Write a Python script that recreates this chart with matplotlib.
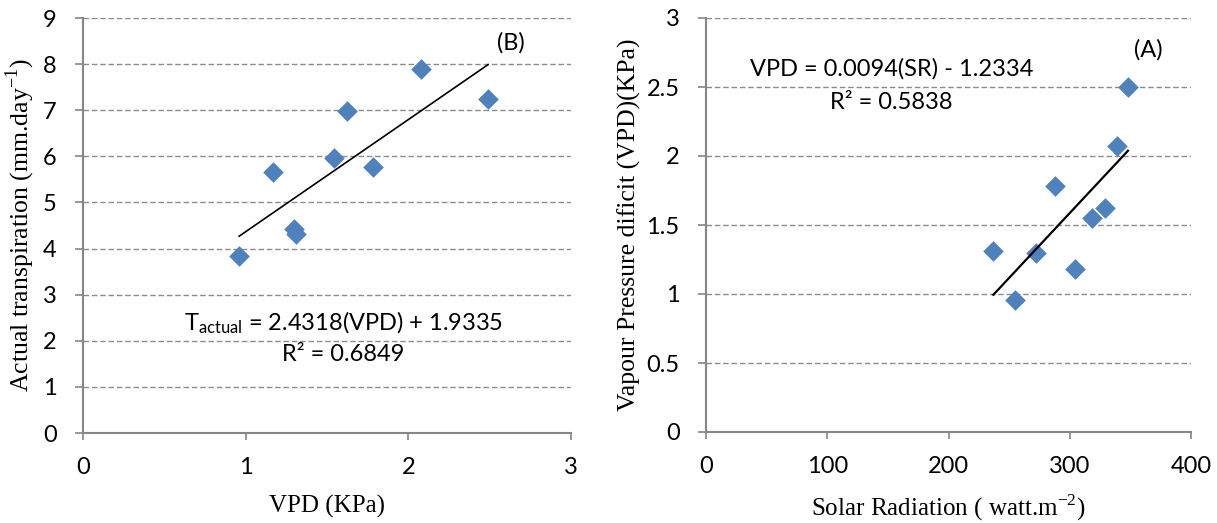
import matplotlib
matplotlib.use("Agg")
import matplotlib.pyplot as plt
import numpy as np

plt.rcParams['font.family'] = ['Lato', 'DejaVu Sans']
plt.rcParams['mathtext.fontset'] = 'custom'
plt.rcParams['mathtext.rm'] = 'Liberation Serif'
plt.rcParams['mathtext.sf'] = 'Lato'

# panel B: VPD vs actual transpiration
vpd_b = [0.96, 1.17, 1.30, 1.31, 1.54, 1.62, 1.78, 2.08, 2.49]
trans_b = [3.83, 5.66, 4.42, 4.32, 5.97, 6.98, 5.76, 7.89, 7.24]
slope_b, icpt_b = 2.4318, 1.9335

# panel A: solar radiation vs VPD
sr_a = [237, 255, 272, 288, 304, 318, 329, 339, 348]
vpd_a = [1.31, 0.96, 1.30, 1.78, 1.18, 1.55, 1.62, 2.07, 2.50]
slope_a, icpt_a = 0.0094, -1.2334

blue = '#4F81BD'
grey = '#868686'
serif = 'Liberation Serif'

fig = plt.figure(figsize=(12.17, 5.23), dpi=100)
axB = fig.add_axes([83 / 1217, 90 / 523, 488 / 1217, 415 / 523])
axA = fig.add_axes([706 / 1217, 91 / 523, 485 / 1217, 414 / 523])


def style(ax):
    for s in ['top', 'right']:
        ax.spines[s].set_visible(False)
    for s in ['left', 'bottom']:
        ax.spines[s].set_color(grey)
        ax.spines[s].set_linewidth(1.5)
    ax.yaxis.grid(True, color='#8c8c8c', linestyle=(0, (4, 2)), linewidth=1)
    ax.set_axisbelow(True)
    ax.tick_params(axis='y', direction='out', length=6, width=1.2, color=grey,
                   pad=13, labelsize=17)
    ax.tick_params(axis='x', direction='out', length=5, width=1.2, color=grey,
                   pad=12.5, labelsize=17)


# --- B ---
style(axB)
axB.scatter(vpd_b, trans_b, marker='D', s=110, color=blue, linewidths=0, zorder=3)
xl = np.array([min(vpd_b), max(vpd_b)])
axB.plot(xl, slope_b * xl + icpt_b, color='black', lw=1.2, zorder=4)
axB.set_xlim(0, 3)
axB.set_ylim(0, 9)
axB.set_xticks([0, 1, 2, 3])
axB.set_yticks(range(0, 10))
axB.set_xlabel('VPD (KPa)', family=serif, fontsize=18)
axB.set_ylabel(r'Actual transpiration (mm.day$^{\mathrm{-1}}$)', family=serif, fontsize=18.5)
axB.xaxis.set_label_coords(0.5, -0.15)
axB.yaxis.set_label_coords(-0.094, 0.5)
axB.text(1.6, 2.39, r'$\mathsf{T_{actual}}$ = 2.4318(VPD) + 1.9335', ha='center', va='center', fontsize=17)
axB.text(1.6, 1.71, 'R² = 0.6849', ha='center', va='center', fontsize=17)
axB.text(2.63, 8.46, '(B)', ha='center', va='center', fontsize=17)

# --- A ---
style(axA)
axA.scatter(sr_a, vpd_a, marker='D', s=110, color=blue, linewidths=0, zorder=3)
xl = np.array([min(sr_a), max(sr_a)])
axA.plot(xl, slope_a * xl + icpt_a, color='black', lw=1.6, zorder=4)
axA.set_xlim(0, 400)
axA.set_ylim(0, 3)
axA.set_xticks([0, 100, 200, 300, 400])
axA.set_yticks([0, 0.5, 1, 1.5, 2, 2.5, 3])
axA.set_yticklabels(['0', '0.5', '1', '1.5', '2', '2.5', '3'])
axA.set_xlabel(r'Solar Radiation ( watt.m$^{\mathrm{-2}}$)', family=serif, fontsize=18)
axA.set_ylabel('Vapour Pressure dificit (VPD)(KPa)', family=serif, fontsize=18.5)
axA.xaxis.set_label_coords(0.5, -0.145)
axA.yaxis.set_label_coords(-0.135, 0.5)
axA.text(153, 2.63, 'VPD = 0.0094(SR) - 1.2334', ha='center', va='center', fontsize=17)
axA.text(153, 2.39, 'R² = 0.5838', ha='center', va='center', fontsize=17)
axA.text(365, 2.77, '(A)', ha='center', va='center', fontsize=17)

fig.savefig('out.png', dpi=100)
